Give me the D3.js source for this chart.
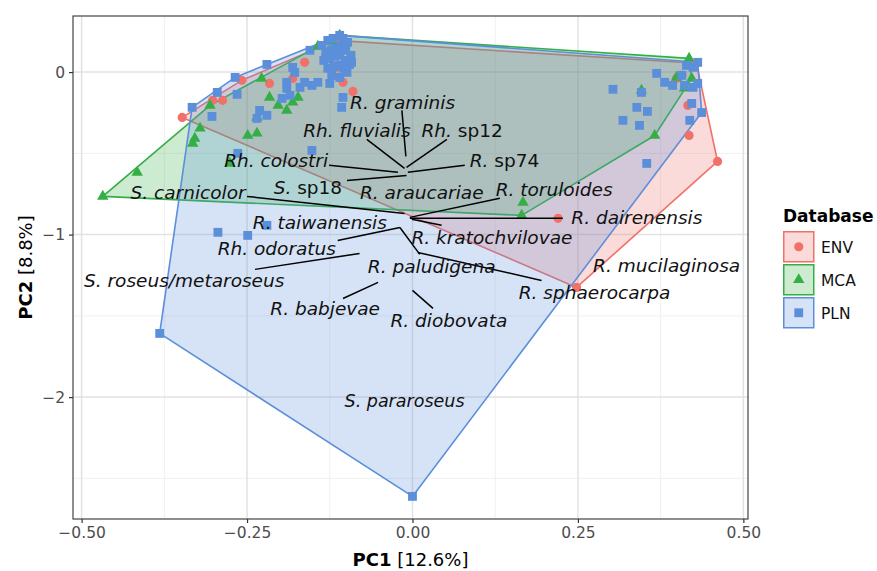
<!DOCTYPE html>
<html>
<head>
<meta charset="utf-8">
<script src="https://cdn.jsdelivr.net/npm/d3@7"></script>
<style>
  body { margin: 0; background: #fff; }
  svg { display: block; font-family: "DejaVu Sans", sans-serif; }
</style>
</head>
<body>
<svg id="chart" width="877" height="571"></svg>
<script>
// groups in the Database legend
const groups = ['ENV', 'MCA', 'PLN'];
const groupColors = ['#F0716A', '#35AF45', '#5B8FDA'];

// PC1, PC2 scores
const envPoints = [
  [-0.348, -0.279], [-0.302, -0.174], [-0.287, -0.174], [-0.258, -0.051], [-0.216, -0.070],
  [-0.181, -0.039], [-0.163, 0.060], [-0.116, 0.195], [-0.113, 0.029], [-0.105, -0.063],
  [-0.090, -0.119], [-0.131, 0.097], [0.220, -0.900], [0.248, -1.325], [0.461, -0.550],
  [0.429, 0.054], [0.407, -0.020], [0.399, -0.039], [0.416, -0.205], [0.418, -0.390]
];
const mcaPoints = [
  [-0.468, -0.765], [-0.416, -0.617], [-0.332, -0.439], [-0.329, -0.408], [-0.321, -0.346],
  [-0.306, -0.205], [-0.276, -0.562], [-0.249, -0.390], [-0.235, -0.377], [-0.235, -0.279],
  [-0.216, -0.156], [-0.203, -0.205], [-0.190, -0.236], [-0.181, -0.186], [-0.173, -0.156],
  [-0.228, -0.039], [-0.143, 0.158], [-0.120, 0.183], [-0.110, 0.226], [0.165, -0.882],
  [0.167, -0.802], [0.366, -0.390], [0.346, -0.113], [0.418, 0.084], [0.422, -0.039],
  [0.399, -0.033], [0.411, -0.100]
];
const plnPoints = [
  [-0.333, -0.217], [-0.303, -0.273], [-0.295, -0.125], [-0.268, -0.033], [-0.265, -0.137],
  [-0.220, 0.047], [-0.181, 0.029], [-0.178, -0.002], [-0.190, -0.063], [-0.190, -0.100],
  [-0.185, -0.143], [-0.170, -0.094], [-0.163, -0.063], [-0.152, -0.082], [-0.143, -0.063],
  [-0.125, -0.070], [-0.197, -0.162], [-0.231, -0.236], [-0.235, -0.285], [-0.220, -0.266],
  [-0.152, -0.482], [-0.105, -0.156], [-0.107, -0.217], [-0.264, -0.500], [-0.155, 0.134],
  [-0.110, 0.226], [-0.137, 0.164], [-0.128, 0.195], [-0.120, 0.207], [-0.105, 0.207],
  [-0.098, 0.183], [-0.131, 0.121], [-0.123, 0.134], [-0.116, 0.146], [-0.108, 0.158],
  [-0.101, 0.134], [-0.093, 0.103], [-0.134, 0.072], [-0.125, 0.084], [-0.117, 0.097],
  [-0.110, 0.103], [-0.102, 0.072], [-0.095, 0.047], [-0.128, 0.023], [-0.119, 0.035],
  [-0.111, 0.041], [-0.104, 0.023], [-0.122, -0.020], [-0.110, -0.033], [-0.092, 0.060],
  [-0.099, -0.002], [-0.294, -0.986], [-0.249, -1.005], [-0.220, -0.943], [-0.382, -1.608],
  [0.000, -2.611], [0.369, -0.008], [0.303, -0.106], [0.346, -0.125], [0.381, -0.063],
  [0.393, -0.082], [0.411, -0.082], [0.424, -0.094], [0.339, -0.217], [0.355, -0.242],
  [0.318, -0.297], [0.343, -0.328], [0.422, -0.193], [0.437, -0.249], [0.419, -0.297],
  [0.354, -0.562], [0.414, 0.041], [0.424, 0.029], [0.431, 0.060], [0.407, -0.020],
  [0.431, -0.070]
];

// species labels: name, label x, label y, segment from (x1, y1) to (x2, y2)
const speciesLabels = [
  ['R. graminis', -0.015, -0.186, -0.016, -0.236, -0.010, -0.519],
  ['Rh. fluvialis', -0.084, -0.359, -0.069, -0.414, -0.012, -0.593],
  ['Rh. sp12', 0.075, -0.359, 0.052, -0.414, -0.009, -0.586],
  ['Rh. colostri', -0.206, -0.543, -0.126, -0.574, -0.022, -0.617],
  ['R. sp74', 0.139, -0.543, 0.079, -0.574, -0.007, -0.617],
  ['S. sp18', -0.158, -0.710, -0.099, -0.667, -0.009, -0.636],
  ['R. araucariae', 0.014, -0.740, null, null, null, null],
  ['R. toruloides', 0.214, -0.722, 0.132, -0.777, -0.004, -0.894],
  ['S. carnicolor', -0.339, -0.740, -0.250, -0.765, -0.012, -0.870],
  ['R. dairenensis', 0.339, -0.894, 0.227, -0.900, -0.004, -0.900],
  ['R. taiwanensis', -0.140, -0.925, null, null, null, null],
  ['R. kratochvilovae', 0.120, -1.017, 0.044, -0.943, -0.001, -0.906],
  ['Rh. odoratus', -0.205, -1.085, -0.113, -1.036, -0.019, -0.956],
  ['S. roseus/metaroseus', -0.345, -1.282, -0.238, -1.214, -0.080, -1.116],
  ['R. paludigena', 0.029, -1.196, 0.011, -1.122, -0.019, -0.956],
  ['R. sphaerocarpa', 0.275, -1.356, 0.195, -1.282, 0.008, -1.110],
  ['R. mucilaginosa', 0.384, -1.189, null, null, null, null],
  ['R. babjevae', -0.132, -1.454, -0.105, -1.393, -0.052, -1.294],
  ['R. diobovata', 0.055, -1.528, 0.031, -1.454, 0.000, -1.343],
  ['S. pararoseus', -0.012, -2.021, null, null, null, null]
];

const xTicks = [-0.5, -0.25, 0, 0.25, 0.5];
const xMinor = [-0.375, -0.125, 0.125, 0.375];
const yTicks = [0, -1, -2];
const yMinor = [-0.5, -1.5, -2.5];

const svg = d3.select('#chart');
const panel = { left: 73, right: 748, top: 16, bottom: 519 };

const x = d3.scaleLinear().domain([-0.513, 0.507]).range([panel.left, panel.right]);
const y = d3.scaleLinear().domain([-2.75, 0.345]).range([panel.bottom, panel.top]);

// grid
const grid = svg.append('g');
grid.selectAll('.xminor').data(xMinor).join('line')
  .attr('x1', d => x(d)).attr('x2', d => x(d))
  .attr('y1', panel.top).attr('y2', panel.bottom)
  .attr('stroke', '#F0F0F0').attr('stroke-width', 1);
grid.selectAll('.yminor').data(yMinor).join('line')
  .attr('y1', d => y(d)).attr('y2', d => y(d))
  .attr('x1', panel.left).attr('x2', panel.right)
  .attr('stroke', '#F0F0F0').attr('stroke-width', 1);
grid.selectAll('.xmajor').data(xTicks).join('line')
  .attr('x1', d => x(d)).attr('x2', d => x(d))
  .attr('y1', panel.top).attr('y2', panel.bottom)
  .attr('stroke', '#E2E2E2').attr('stroke-width', 1.5);
grid.selectAll('.ymajor').data(yTicks).join('line')
  .attr('y1', d => y(d)).attr('y2', d => y(d))
  .attr('x1', panel.left).attr('x2', panel.right)
  .attr('stroke', '#E2E2E2').attr('stroke-width', 1.5);

const allPoints = [envPoints, mcaPoints, plnPoints];
const symbols = [
  d3.symbol().type(d3.symbolCircle).size(66),
  d3.symbol().type(d3.symbolTriangle).size(56),
  d3.symbol().type(d3.symbolSquare).size(78)
];

// convex hulls
allPoints.forEach((pts, i) => {
  const hull = d3.polygonHull(pts.map(p => [x(p[0]), y(p[1])]));
  svg.append('path')
    .attr('d', 'M' + hull.join('L') + 'Z')
    .attr('fill', groupColors[i])
    .attr('fill-opacity', 0.25)
    .attr('stroke', groupColors[i])
    .attr('stroke-width', 1.6)
    .attr('stroke-linejoin', 'round');
});

// points
allPoints.forEach((pts, i) => {
  svg.append('g').selectAll('path').data(pts).join('path')
    .attr('transform', d => `translate(${x(d[0])},${y(d[1])})`)
    .attr('d', symbols[i])
    .attr('fill', groupColors[i]);
});

// label segments
svg.append('g').selectAll('line')
  .data(speciesLabels.filter(d => d[3] !== null)).join('line')
  .attr('x1', d => x(d[3])).attr('y1', d => y(d[4]))
  .attr('x2', d => x(d[5])).attr('y2', d => y(d[6]))
  .attr('stroke', '#000').attr('stroke-width', 1.5);

// species labels
const labels = svg.append('g').selectAll('text').data(speciesLabels).join('text')
  .attr('x', d => x(d[1])).attr('y', d => y(d[2]))
  .attr('dy', '0.36em')
  .attr('text-anchor', 'middle')
  .attr('font-size', d => d[0] === 'S. pararoseus' ? 17.5 : 18.5)
  .attr('fill', '#111');
labels.each(function(d) {
  const t = d3.select(this);
  const m = d[0].match(/^(\S+\.) (sp\d+)$/);
  if (m) {
    t.append('tspan').attr('font-style', 'italic').text(m[1] + ' ');
    t.append('tspan').text(m[2]);
  } else {
    t.append('tspan').attr('font-style', 'italic').text(d[0]);
  }
});

// panel border
svg.append('rect')
  .attr('x', panel.left).attr('y', panel.top)
  .attr('width', panel.right - panel.left).attr('height', panel.bottom - panel.top)
  .attr('fill', 'none').attr('stroke', '#444').attr('stroke-width', 1.2);

// axes
const xAxis = svg.append('g')
  .attr('transform', `translate(0,${panel.bottom})`)
  .call(d3.axisBottom(x).tickValues(xTicks).tickFormat(d3.format('.2f')).tickSize(4).tickPadding(4));
const yAxis = svg.append('g')
  .attr('transform', `translate(${panel.left},0)`)
  .call(d3.axisLeft(y).tickValues(yTicks).tickFormat(d3.format('d')).tickSize(4).tickPadding(4));
[xAxis, yAxis].forEach(a => {
  a.select('.domain').remove();
  a.selectAll('.tick line').attr('stroke', '#333').attr('stroke-width', 1.2);
  a.selectAll('.tick text').attr('fill', '#4D4D4D')
    .attr('font-size', 15.5).attr('font-family', '"DejaVu Sans", sans-serif');
});

// axis titles
const xTitle = svg.append('text')
  .attr('x', (panel.left + panel.right) / 2).attr('y', 566)
  .attr('text-anchor', 'middle').attr('font-size', 18).attr('fill', '#000');
xTitle.append('tspan').attr('font-weight', 'bold').text('PC1');
xTitle.append('tspan').text(' [12.6%]');

const yTitle = svg.append('text')
  .attr('transform', `translate(32,${(panel.top + panel.bottom) / 2}) rotate(-90)`)
  .attr('text-anchor', 'middle').attr('font-size', 18).attr('fill', '#000');
yTitle.append('tspan').attr('font-weight', 'bold').text('PC2');
yTitle.append('tspan').text(' [8.8%]');

// legend
const legend = svg.append('g').attr('transform', 'translate(783,0)');
legend.append('text')
  .attr('x', 0).attr('y', 222)
  .attr('font-size', 17).attr('font-weight', 'bold').attr('fill', '#000')
  .text('Database');
const keys = legend.selectAll('.key').data(groups).join('g')
  .attr('transform', (d, i) => `translate(0,${231 + i * 33})`);
keys.append('rect')
  .attr('x', 0.75).attr('y', 0.75).attr('width', 30).attr('height', 30)
  .attr('fill', (d, i) => groupColors[i]).attr('fill-opacity', 0.25)
  .attr('stroke', (d, i) => groupColors[i]).attr('stroke-width', 1.5);
keys.append('path')
  .attr('transform', 'translate(15.75,15.75)')
  .attr('d', (d, i) => symbols[i]())
  .attr('fill', (d, i) => groupColors[i]);
keys.append('text')
  .attr('x', 38).attr('y', 16).attr('dy', '0.36em')
  .attr('font-size', 15.5).attr('fill', '#111')
  .text(d => d);
</script>
</body>
</html>
